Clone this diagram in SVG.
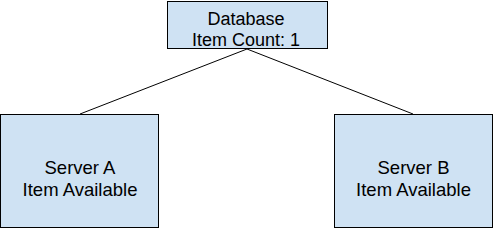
<svg xmlns="http://www.w3.org/2000/svg" width="494" height="229" viewBox="0 0 494 229">
<style>
.box{fill:#cfe2f3;stroke:#000;stroke-width:1}
.t{font-family:"Liberation Sans",Arial,sans-serif;font-size:18px;fill:#000;text-anchor:middle}
.s{font-size:18.5px}
.c{stroke:#000;stroke-width:1;fill:none}
</style>
<rect width="494" height="229" fill="#fff"/>
<g id="connectors">
<line class="c" x1="247" y1="49" x2="80" y2="114"/>
<line class="c" x1="247" y1="49" x2="413" y2="114"/>
</g>
<g id="database">
<rect class="box" x="167.5" y="1.5" width="160" height="47"/>
<text class="t" x="246" y="24.5">Database</text>
<text class="t" x="246" y="45.5">Item Count: 1</text>
</g>
<g id="serverA">
<rect class="box" x="0.5" y="114.5" width="158" height="113"/>
<text class="t s" x="80" y="174">Server A</text>
<text class="t s" x="80" y="196">Item Available</text>
</g>
<g id="serverB">
<rect class="box" x="334.5" y="114.5" width="158" height="113"/>
<text class="t s" x="413.5" y="174">Server B</text>
<text class="t s" x="413.5" y="196">Item Available</text>
</g>
</svg>
